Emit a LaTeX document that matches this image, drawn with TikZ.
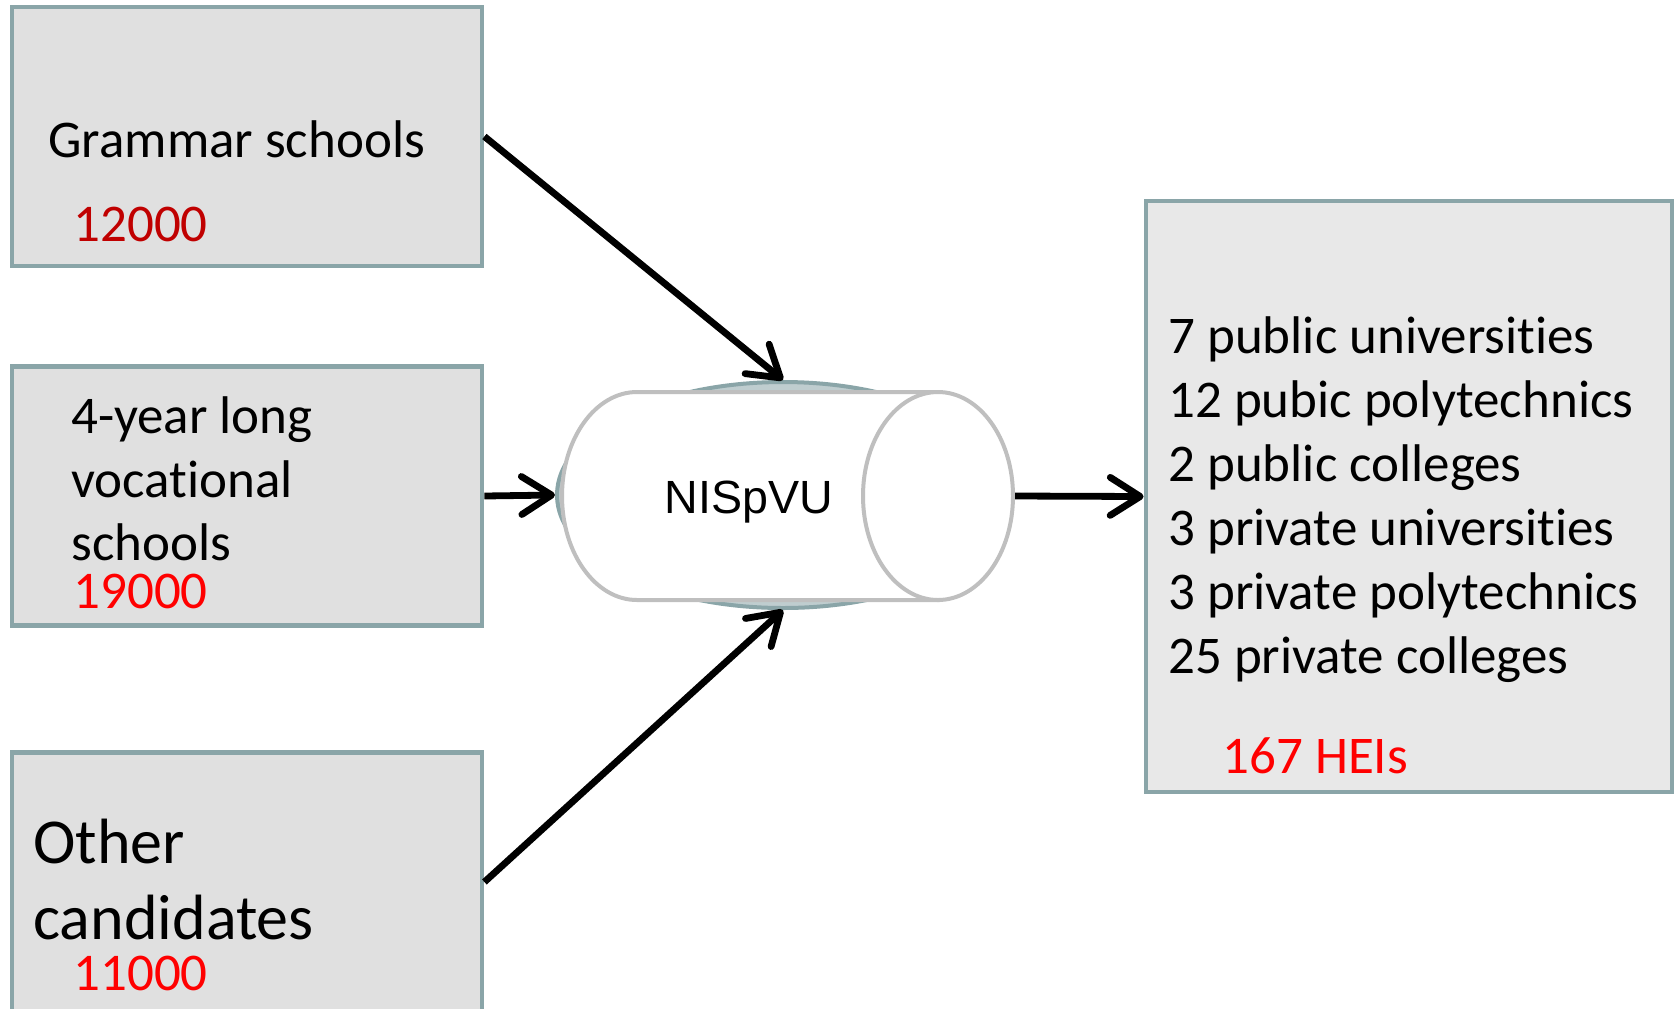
\documentclass[tikz,border=0pt]{standalone}
\usepackage{fontspec}
\setmainfont{Carlito}[Ligatures=NoCommon]
\newfontfamily\arialfont{Liberation Sans}
\usetikzlibrary{arrows.meta,shapes.geometric}

\definecolor{boxedge}{HTML}{8AA5A8}
\definecolor{boxfill}{HTML}{E0E0E0}
\definecolor{heifill}{HTML}{E8E8E8}
\definecolor{cylgray}{HTML}{BFBFBF}
\definecolor{darkred}{HTML}{C00000}

\begin{document}
\begin{tikzpicture}[x=0.5pt,y=-0.5pt,  % one unit = one pixel, y pointing down
    source/.style={
      draw=boxedge, line width=2.4pt,
      fill=boxfill,
      minimum width=235pt, minimum height=129.5pt,
      inner sep=0pt
    },
    txt/.style={
      anchor=base west, inner sep=0pt,
      font=\fontsize{26.5}{32}\selectfont
    },
    bigtxt/.style={txt, font=\fontsize{32}{38}\selectfont},
    cylline/.style={draw=cylgray, fill=white, line width=2pt},
    flow/.style={
      line width=3.4pt,
      -{Straight Barb[round,length=15pt,width=19pt]}
    }
  ]

    \useasboundingbox (0,0) rectangle (1675,1008);

    % Source boxes
    \node[source] (gram)  at (247,136.5) {};
    \node[source] (voc)   at (247,496) {};
    \node[source] (other) at (247,882) {};

    % Target box
    \node[source, fill=heifill, minimum width=263pt, minimum height=295.5pt]
      (hei) at (1409,496.5) {};

    % Ellipse behind the cylinder
    \node[ellipse, draw=boxedge, line width=2pt, fill=boxedge!55,
      minimum width=226pt, minimum height=113pt, inner sep=0pt]
      (ring) at (783,495) {};

    % Cylinder: body with left cap, then the right end
    \path[cylline] (938,392) -- (637,392)
      arc[start angle=270, end angle=90, x radius=75, y radius=104]
      -- (938,600) -- cycle;
    \node[ellipse, cylline, minimum width=75pt, minimum height=104pt,
      inner sep=0pt] (cylcap) at (938,496) {};
    \node[anchor=base, inner sep=0pt,
      font=\arialfont\fontsize{23.3}{28}\selectfont]
      (nisp) at (749,513) {NISpVU};

    % Texts of the source boxes
    \node[txt] (gramtxt) at (48,157) {Grammar schools};
    \node[txt, text=darkred] (gramnum) at (73,241) {12000};

    \node[txt] (voctxta) at (71,433) {4-year long};
    \node[txt] (voctxtb) at (71,497) {vocational};
    \node[txt] (voctxtc) at (71,560) {schools};
    \node[txt, text=red] (vocnum) at (73,608) {19000};

    \node[bigtxt] (othertxta) at (33,863) {Other};
    \node[bigtxt] (othertxtb) at (33,939) {candidates};
    \node[txt, text=red] (othernum) at (73,990) {11000};

    % Texts of the target box
    \foreach \n/\t in {0/7 public universities,1/12 pubic polytechnics,
      2/2 public colleges,3/3 private universities,
      4/3 private polytechnics,5/25 private colleges} {
      \node[txt] (hei\n) at (1168,{353+64*\n}) {\t};
    }
    \node[txt, text=red] (heinum) at (1222,773) {167 HEIs};

    % Arrows
    \draw[flow] (gram.east) -- (ring.north);
    \draw[flow] (voc.east) -- (ring.west);
    \draw[flow] (other.east) -- (ring.south);
    \draw[flow] (cylcap.east) -- (hei.west);

  \end{tikzpicture}
\end{document}
